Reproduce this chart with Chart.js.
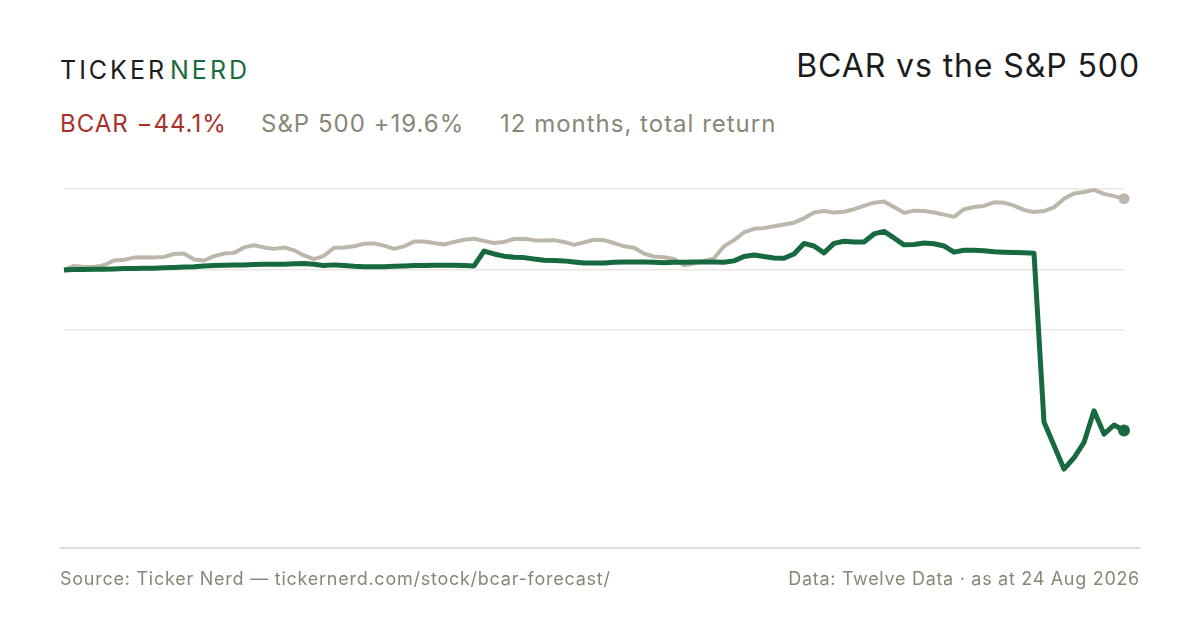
<!DOCTYPE html>
<html>
<head>
<meta charset="utf-8">
<script src="https://cdn.jsdelivr.net/npm/chart.js@4.4.1/dist/chart.umd.min.js"></script>
<style>
  html, body { margin: 0; padding: 0; background: #ffffff; }
  body { width: 1200px; height: 630px; position: relative; overflow: hidden; font-family: "Inter", "Liberation Sans", sans-serif; }
  #chart { position: absolute; left: 0; top: 0; }
  .txt { position: absolute; white-space: nowrap; line-height: 1; }
  .logo { left: 60px; top: 58px; font-size: 25px; letter-spacing: 3px; color: #1c1c1c; }
  .logo .nerd { color: #1a6b40; margin-left: 3px; }
  .title { right: 60px; top: 50px; font-size: 32px; letter-spacing: 0.9px; color: #1c1c1c; }
  .sub { top: 112px; font-size: 24px; letter-spacing: 1px; }
  .footer { top: 570px; font-size: 18px; letter-spacing: 0.75px; color: #8a8676; }
  .rule { position: absolute; left: 60px; top: 547px; width: 1080px; height: 2px; background: #e2ded4; }
</style>
</head>
<body>
<div class="txt logo">TICKER<span class="nerd">NERD</span></div>
<div class="txt title">BCAR vs the S&amp;P 500</div>
<div class="txt sub" style="left:60px;color:#a8322a;">BCAR −44.1%</div>
<div class="txt sub" style="left:261px;color:#8a8676;">S&amp;P 500 +19.6%</div>
<div class="txt sub" style="left:500px;color:#8a8676;">12 months, total return</div>
<canvas id="chart" width="1200" height="630"></canvas>
<div class="rule"></div>
<div class="txt footer" style="left:60px;">Source: Ticker Nerd — tickernerd.com/stock/bcar-forecast/</div>
<div class="txt footer" style="right:60px;letter-spacing:0.7px;">Data: Twelve Data · as at 24 Aug 2026</div>
<script>
// total return, % since start (one point every ~2-3 trading days)
const bcarReturn = [
  0, 0.1, 0.1, 0.2, 0.2, 0.3, 0.4, 0.4, 0.5, 0.5,
  0.6, 0.7, 0.8, 0.9, 1.1, 1.2, 1.3, 1.4, 1.4, 1.5,
  1.6, 1.6, 1.6, 1.7, 1.8, 1.6, 1.2, 1.4, 1.2, 1.0,
  0.9, 0.9, 0.9, 1.0, 1.1, 1.2, 1.2, 1.3, 1.3, 1.3,
  1.2, 1.1, 5.2, 4.4, 3.8, 3.5, 3.4, 3.0, 2.7, 2.6,
  2.5, 2.2, 1.9, 1.9, 1.9, 2.1, 2.2, 2.2, 2.2, 2.1,
  2.0, 2.1, 2.1, 2.2, 2.2, 2.2, 2.1, 2.5, 3.7, 4.1,
  3.7, 3.3, 3.2, 4.4, 7.3, 6.6, 4.7, 7.3, 7.9, 7.7,
  7.7, 9.9, 10.6, 8.8, 6.9, 7.0, 7.4, 7.2, 6.6, 4.9,
  5.4, 5.4, 5.3, 5.0, 4.9, 4.8, 4.7, 4.6, -41.8, -48.2,
  -54.7, -51.6, -47.4, -38.7, -45.1, -42.6, -44.1
];
const spxReturn = [
  0, 1.1, 0.8, 0.8, 1.3, 2.6, 2.8, 3.4, 3.5, 3.4,
  3.6, 4.4, 4.5, 2.9, 2.6, 3.8, 4.5, 4.7, 6.2, 6.8,
  6.2, 5.8, 6.2, 5.4, 4.0, 3.0, 3.9, 6.1, 6.2, 6.5,
  7.2, 7.3, 6.7, 5.8, 6.5, 7.8, 7.8, 7.4, 7.0, 7.7,
  8.3, 8.6, 8.0, 7.4, 7.7, 8.5, 8.6, 8.2, 8.1, 8.2,
  7.7, 6.9, 7.6, 8.3, 8.2, 7.4, 6.5, 6.1, 4.5, 3.7,
  3.5, 3.0, 1.3, 1.8, 2.5, 3.2, 6.5, 8.2, 10.3, 11.3,
  11.5, 12.0, 12.5, 13.0, 14.2, 15.8, 16.2, 15.8, 16.0, 16.7,
  17.6, 18.5, 18.8, 17.3, 15.7, 16.3, 16.2, 15.8, 15.2, 14.6,
  16.7, 17.3, 17.6, 18.6, 18.5, 17.7, 16.5, 15.9, 16.2, 17.2,
  19.6, 21.0, 21.4, 22.0, 20.9, 20.3, 19.6
];
const gridValues = [22.25, 0, -16.5];
const yMin = -68.7;
const yMax = 22.25;

const labels = bcarReturn.map((_, i) => i);
const lastIndex = labels.length - 1;
const endDot = (r) => (ctx) => (ctx.dataIndex === lastIndex ? r : 0);

new Chart(document.getElementById("chart"), {
  type: "line",
  data: {
    labels,
    datasets: [
      {
        label: "BCAR",
        data: bcarReturn,
        borderColor: "#17693f",
        backgroundColor: "#17693f",
        borderWidth: 5,
        pointRadius: endDot(6),
        pointHoverRadius: 0,
        pointBorderWidth: 0,
        borderJoinStyle: "round",
        tension: 0,
        clip: false,
      },
      {
        label: "S&P 500",
        data: spxReturn,
        borderColor: "#bdb6aa",
        backgroundColor: "#bdb6aa",
        borderWidth: 4,
        pointRadius: endDot(5.5),
        pointHoverRadius: 0,
        pointBorderWidth: 0,
        borderJoinStyle: "round",
        tension: 0,
        clip: false,
      },
    ],
  },
  options: {
    responsive: false,
    animation: false,
    events: [],
    layout: { padding: { left: 64, right: 76, top: 189, bottom: 110 } },
    plugins: { legend: { display: false }, tooltip: { enabled: false } },
    scales: {
      x: { display: false, offset: false },
      y: {
        min: yMin,
        max: yMax,
        ticks: { display: false },
        grid: { color: "#ebe7df", lineWidth: 1.5, drawTicks: false },
        border: { display: false },
        afterBuildTicks: (axis) => {
          axis.ticks = gridValues.map((v) => ({ value: v }));
        },
      },
    },
  },
});
</script>
</body>
</html>
